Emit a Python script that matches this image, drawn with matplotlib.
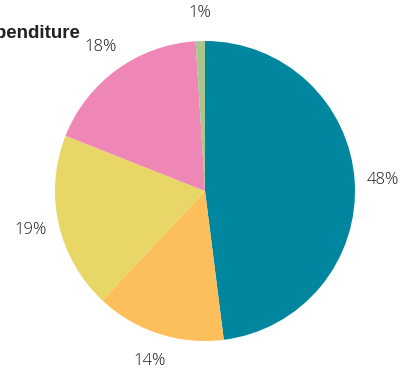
import matplotlib.pyplot as plt

# share of spending per category, clockwise from 12 o'clock
shares = [48, 14, 19, 18, 1]
colors = ["#00869E", "#FDBF5B", "#E8D666", "#EE87B5", "#A9C68E"]

fig = plt.figure(figsize=(4.10, 3.68), dpi=100)
ax = fig.add_axes([0.5 - 150 / 410, 1 - 341 / 368, 300 / 410, 300 / 368])

wedges, texts, pcts = ax.pie(
    shares,
    colors=colors,
    startangle=90,
    counterclock=False,
    autopct="%d%%",
    pctdistance=1.19,
    wedgeprops=dict(linewidth=0),
)
for t in pcts:
    t.set_fontsize(12)
    t.set_color("#1a1a1a")
    t.set_fontfamily("Open Sans")
    t.set_fontweight(300)
ax.set_xlim(-1, 1)
ax.set_ylim(-1, 1)
ax.set_aspect("equal")

fig.text(81 / 410, 1 - 34 / 368, "Expenditure", ha="right", va="center",
         fontsize=13.5, fontweight="bold", color="#222222", family="Liberation Sans")

fig.savefig("out.png", dpi=100)
